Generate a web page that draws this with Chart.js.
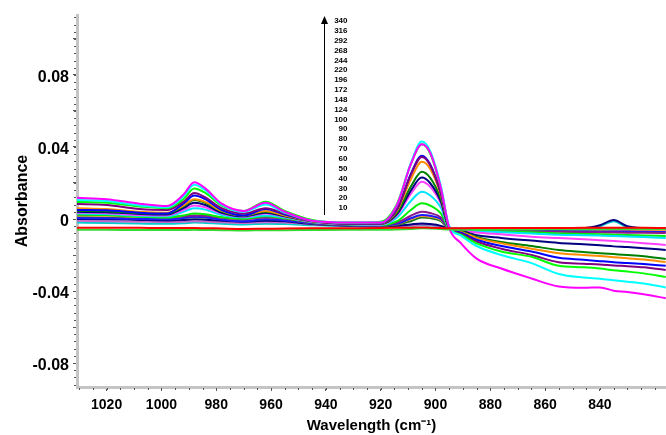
<!DOCTYPE html>
<html>
<head>
<meta charset="utf-8">
<script src="https://cdn.jsdelivr.net/npm/chart.js@4.4.1/dist/chart.umd.min.js"></script>
<style>
  html, body { margin: 0; padding: 0; background: #fff; }
  #wrap { width: 666px; height: 435px; }
</style>
</head>
<body>
<div id="wrap"><canvas id="spectra" width="666" height="435"></canvas></div>
<script>
// Wavenumber grid (cm-1)
const wavenumbers = [1031, 1020, 1008, 998, 992, 988, 984, 978, 970, 962, 955, 945, 932, 920, 914, 909, 905, 902, 898, 895, 891, 885, 876, 865, 855, 846, 840, 835, 830, 824, 816];

// Absorbance for each time (labels in the arrow list)
const abs340 = [0.0118, 0.0110, 0.0085, 0.0072, 0.0135, 0.0204, 0.0170, 0.0085, 0.0045, 0.0090, 0.0040, -0.0010, -0.0020, -0.0020, 0.0080, 0.0305, 0.0415, 0.0370, 0.0170, -0.0050, -0.0130, -0.0220, -0.0275, -0.0330, -0.0375, -0.0382, -0.0380, -0.0398, -0.0405, -0.0418, -0.0440];
const abs316 = [0.0105, 0.0100, 0.0075, 0.0065, 0.0125, 0.0190, 0.0160, 0.0080, 0.0040, 0.0080, 0.0035, -0.0010, -0.0020, -0.0020, 0.0080, 0.0310, 0.0430, 0.0380, 0.0180, -0.0040, -0.0090, -0.0150, -0.0200, -0.0245, -0.0305, -0.0325, -0.0332, -0.0340, -0.0348, -0.0358, -0.0380];
const abs292 = [0.0095, 0.0090, 0.0070, 0.0060, 0.0110, 0.0170, 0.0145, 0.0075, 0.0045, 0.0096, 0.0045, -0.0005, -0.0020, -0.0015, 0.0085, 0.0305, 0.0415, 0.0365, 0.0170, -0.0045, -0.0085, -0.0135, -0.0180, -0.0210, -0.0260, -0.0268, -0.0275, -0.0285, -0.0292, -0.0302, -0.0322];
const abs268 = [0.0083, 0.0078, 0.0055, 0.0050, 0.0095, 0.0144, 0.0120, 0.0060, 0.0030, 0.0060, 0.0030, -0.0010, -0.0025, -0.0025, 0.0055, 0.0245, 0.0344, 0.0300, 0.0140, -0.0045, -0.0080, -0.0125, -0.0165, -0.0200, -0.0240, -0.0248, -0.0252, -0.0258, -0.0262, -0.0268, -0.0283];
const abs244 = [0.0050, 0.0048, 0.0035, 0.0030, 0.0085, 0.0130, 0.0110, 0.0050, 0.0020, 0.0055, 0.0025, -0.0010, -0.0025, -0.0025, 0.0055, 0.0250, 0.0352, 0.0305, 0.0140, -0.0045, -0.0075, -0.0115, -0.0150, -0.0180, -0.0215, -0.0226, -0.0234, -0.0240, -0.0244, -0.0250, -0.0260];
const abs220 = [0.0060, 0.0055, 0.0040, 0.0035, 0.0075, 0.0110, 0.0095, 0.0045, 0.0020, 0.0045, 0.0020, -0.0012, -0.0025, -0.0025, 0.0048, 0.0220, 0.0318, 0.0280, 0.0130, -0.0045, -0.0070, -0.0105, -0.0135, -0.0165, -0.0190, -0.0200, -0.0206, -0.0212, -0.0218, -0.0225, -0.0239];
const abs196 = [0.0045, 0.0043, 0.0032, 0.0030, 0.0070, 0.0105, 0.0090, 0.0042, 0.0018, 0.0040, 0.0018, -0.0012, -0.0025, -0.0027, 0.0036, 0.0180, 0.0263, 0.0230, 0.0110, -0.0048, -0.0068, -0.0100, -0.0128, -0.0150, -0.0172, -0.0183, -0.0190, -0.0195, -0.0200, -0.0207, -0.0222];
const abs172 = [0.0040, 0.0038, 0.0028, 0.0025, 0.0060, 0.0090, 0.0078, 0.0035, 0.0015, 0.0035, 0.0015, -0.0013, -0.0027, -0.0028, 0.0028, 0.0158, 0.0230, 0.0200, 0.0095, -0.0050, -0.0065, -0.0090, -0.0105, -0.0120, -0.0133, -0.0140, -0.0146, -0.0152, -0.0156, -0.0162, -0.0172];
const abs148 = [0.0035, 0.0032, 0.0022, 0.0020, 0.0050, 0.0075, 0.0065, 0.0030, 0.0012, 0.0030, 0.0012, -0.0015, -0.0028, -0.0030, 0.0022, 0.0140, 0.0207, 0.0180, 0.0085, -0.0050, -0.0062, -0.0075, -0.0085, -0.0098, -0.0106, -0.0113, -0.0118, -0.0122, -0.0127, -0.0134, -0.0144];
const abs124 = [0.0030, 0.0028, 0.0018, 0.0015, 0.0040, 0.0060, 0.0052, 0.0022, 0.0008, 0.0020, 0.0008, -0.0016, -0.0029, -0.0032, 0.0008, 0.0100, 0.0152, 0.0132, 0.0062, -0.0052, -0.0060, -0.0068, -0.0073, -0.0080, -0.0088, -0.0090, -0.0092, -0.0094, -0.0097, -0.0100, -0.0106];
const abs100 = [0.0025, 0.0022, 0.0012, 0.0008, 0.0020, 0.0030, 0.0026, 0.0010, 0.0002, 0.0015, 0.0004, -0.0018, -0.0030, -0.0033, -0.0012, 0.0050, 0.0087, 0.0075, 0.0030, -0.0053, -0.0058, -0.0064, -0.0069, -0.0074, -0.0080, -0.0083, -0.0085, -0.0087, -0.0089, -0.0091, -0.0094];
const abs90 = [0.0025, 0.0023, 0.0015, 0.0012, 0.0015, 0.0020, 0.0018, 0.0008, 0.0000, 0.0010, 0.0002, -0.0020, -0.0032, -0.0034, -0.0020, 0.0018, 0.0040, 0.0033, 0.0008, -0.0054, -0.0057, -0.0061, -0.0064, -0.0068, -0.0071, -0.0073, -0.0074, -0.0075, -0.0076, -0.0077, -0.0078];
const abs80 = [0.0005, 0.0004, 0.0000, -0.0002, 0.0005, 0.0012, 0.0010, -0.0003, -0.0012, -0.0002, -0.0008, -0.0024, -0.0034, -0.0036, -0.0027, 0.0004, 0.0022, 0.0018, 0.0000, -0.0055, -0.0057, -0.0060, -0.0062, -0.0065, -0.0067, -0.0068, -0.0069, -0.0070, -0.0070, -0.0071, -0.0072];
const abs70 = [0.0020, 0.0018, 0.0010, 0.0008, 0.0010, 0.0014, 0.0012, 0.0004, -0.0004, 0.0004, -0.0002, -0.0022, -0.0033, -0.0035, -0.0028, 0.0000, 0.0017, 0.0013, -0.0005, -0.0055, -0.0056, -0.0058, -0.0060, -0.0062, -0.0064, -0.0065, -0.0065, -0.0066, -0.0066, -0.0066, -0.0067];
const abs60 = [0.0010, 0.0009, 0.0004, 0.0002, 0.0006, 0.0010, 0.0008, 0.0000, -0.0008, 0.0000, -0.0006, -0.0025, -0.0035, -0.0037, -0.0032, -0.0012, 0.0008, 0.0005, -0.0012, -0.0055, -0.0055, -0.0056, -0.0057, -0.0058, -0.0058, -0.0059, -0.0059, -0.0059, -0.0060, -0.0060, -0.0060];
const abs50 = [0.0000, -0.0001, -0.0005, -0.0008, -0.0006, -0.0002, -0.0004, -0.0010, -0.0015, -0.0010, -0.0013, -0.0028, -0.0037, -0.0040, -0.0038, -0.0030, -0.0025, -0.0028, -0.0038, -0.0054, -0.0054, -0.0054, -0.0054, -0.0053, -0.0052, -0.0051, -0.0035, -0.0006, -0.0040, -0.0050, -0.0052];
const abs40 = [-0.0010, -0.0012, -0.0015, -0.0017, -0.0015, -0.0012, -0.0014, -0.0018, -0.0022, -0.0018, -0.0020, -0.0030, -0.0038, -0.0041, -0.0040, -0.0035, -0.0030, -0.0032, -0.0040, -0.0054, -0.0054, -0.0055, -0.0055, -0.0055, -0.0055, -0.0055, -0.0055, -0.0056, -0.0056, -0.0056, -0.0057];
const abs30 = [-0.0020, -0.0022, -0.0025, -0.0027, -0.0024, -0.0020, -0.0022, -0.0026, -0.0030, -0.0026, -0.0028, -0.0034, -0.0040, -0.0042, -0.0041, -0.0038, -0.0034, -0.0036, -0.0042, -0.0054, -0.0054, -0.0054, -0.0054, -0.0054, -0.0054, -0.0053, -0.0040, -0.0012, -0.0045, -0.0053, -0.0055];
const abs20 = [-0.0060, -0.0060, -0.0061, -0.0061, -0.0061, -0.0060, -0.0061, -0.0062, -0.0064, -0.0062, -0.0062, -0.0061, -0.0060, -0.0060, -0.0058, -0.0055, -0.0052, -0.0053, -0.0056, -0.0058, -0.0059, -0.0059, -0.0058, -0.0058, -0.0057, -0.0057, -0.0057, -0.0056, -0.0056, -0.0056, -0.0056];
const abs10 = [-0.0048, -0.0048, -0.0049, -0.0050, -0.0050, -0.0050, -0.0051, -0.0053, -0.0055, -0.0054, -0.0053, -0.0052, -0.0051, -0.0050, -0.0049, -0.0048, -0.0047, -0.0048, -0.0050, -0.0052, -0.0051, -0.0050, -0.0050, -0.0050, -0.0050, -0.0049, -0.0049, -0.0049, -0.0049, -0.0049, -0.0050];

// Time labels beside the arrow (top to bottom)
const timeLabels = ['340', '316', '292', '268', '244', '220', '196', '172', '148', '124', '100', '90', '80', '70', '60', '50', '40', '30', '20', '10'];

// Series in drawing order (first = on top) and their colours
const seriesNames = ['10', '20', '340', '316', '292', '268', '244', '220', '196', '172', '148', '124', '100', '90', '80', '70', '60', '50', '40', '30'];
const seriesData = [abs10, abs20, abs340, abs316, abs292, abs268, abs244, abs220, abs196, abs172, abs148, abs124, abs100, abs90, abs80, abs70, abs60, abs50, abs40, abs30];
const seriesColors = ['#ff0000', '#33dd33', '#ff00ff', '#00ffff', '#00ff00', '#800080', '#0000ff', '#ff8c00', '#008000', '#000080', '#ff40ff', '#00e5ff', '#00ee00', '#8b1a8b', '#1a1aff', '#ff9933', '#1f7a1f', '#000080', '#cc66cc', '#00cccc'];

// Axis ticks
const xTicks = [1020, 1000, 980, 960, 940, 920, 900, 880, 860, 840];
const yTicks = [-0.08, -0.06, -0.04, -0.02, 0, 0.02, 0.04, 0.06, 0.08, 0.1];
const yLabels = { '-0.08': '-0.08', '-0.04': '-0.04', '0': '0', '0.04': '0.04', '0.08': '0.08' };

const datasets = seriesNames.map((name, i) => ({
  label: name,
  data: wavenumbers.map((w, j) => ({ x: w, y: seriesData[i][j] })),
  borderColor: seriesColors[i],
  backgroundColor: seriesColors[i],
  borderWidth: 2,
  pointRadius: 0,
  fill: false,
  cubicInterpolationMode: 'monotone'
}));

// minor ticks and the time arrow
const extras = {
  id: 'extras',
  afterDraw(chart) {
    const ctx = chart.ctx;
    const xs = chart.scales.x, ys = chart.scales.y;
    const area = chart.chartArea;
    ctx.save();
    ctx.strokeStyle = '#555';
    ctx.lineWidth = 1;
    // y minor ticks
    for (let k = -23; k <= 28; k++) {
      const py = Math.round(ys.getPixelForValue(k * 0.004)) + 0.5;
      if (py < area.top || py > area.bottom) continue;
      ctx.beginPath();
      ctx.moveTo(area.left - 3, py);
      ctx.lineTo(area.left - 1, py);
      ctx.stroke();
    }
    // x minor ticks
    for (let w = 820; w <= 1030; w += 5) {
      const px = Math.round(xs.getPixelForValue(w)) + 0.5;
      if (px < area.left || px > area.right) continue;
      ctx.beginPath();
      ctx.moveTo(px, area.bottom + 1);
      ctx.lineTo(px, area.bottom + 3);
      ctx.stroke();
    }
    // arrow
    const ax = Math.round(xs.getPixelForValue(940.7)) + 0.5;
    const top = area.top + 1;
    const bot = ys.getPixelForValue(0.0022);
    ctx.strokeStyle = '#000';
    ctx.fillStyle = '#000';
    ctx.beginPath();
    ctx.moveTo(ax, bot);
    ctx.lineTo(ax, top + 6);
    ctx.stroke();
    ctx.beginPath();
    ctx.moveTo(ax, top);
    ctx.lineTo(ax - 3.5, top + 8);
    ctx.lineTo(ax + 3.5, top + 8);
    ctx.closePath();
    ctx.fill();
    // time labels
    ctx.font = 'bold 8px "Liberation Sans", Arial, sans-serif';
    ctx.textAlign = 'right';
    ctx.textBaseline = 'middle';
    const step = (bot - 7 - (top + 5)) / (timeLabels.length - 1);
    timeLabels.forEach((t, i) => {
      ctx.fillText(t, ax + 23, top + 5 + i * step);
    });
    ctx.restore();
  }
};

new Chart(document.getElementById('spectra'), {
  type: 'line',
  data: { datasets: datasets },
  options: {
    responsive: false,
    animation: false,
    devicePixelRatio: 1,
    layout: { padding: { top: 15, right: 0, left: 0, bottom: 0 } },
    plugins: {
      legend: { display: false },
      tooltip: { enabled: false }
    },
    scales: {
      x: {
        type: 'linear',
        reverse: true,
        min: 815.9,
        max: 1030.8,
        afterBuildTicks: (scale) => { scale.ticks = xTicks.map(v => ({ value: v })); },
        afterFit: (scale) => { scale.height = 48; },
        ticks: {
          autoSkip: false,
          maxRotation: 0,
          padding: 6,
          color: '#000',
          font: { family: '"Liberation Sans", Arial, sans-serif', size: 14, weight: 'bold' },
          callback: (v) => String(v)
        },
        grid: { drawOnChartArea: false, drawTicks: true, tickLength: 4, color: '#555' },
        border: { display: true, color: '#c4c4c4', width: 3 },
        title: {
          display: true,
          text: 'Wavelength (cm⁻¹)',
          color: '#000',
          padding: { top: 0, bottom: 0 },
          font: { family: '"Liberation Sans", Arial, sans-serif', size: 15, weight: 'bold' }
        }
      },
      y: {
        min: -0.0933,
        max: 0.1133,
        afterBuildTicks: (scale) => { scale.ticks = yTicks.map(v => ({ value: v })); },
        afterFit: (scale) => { scale.width = 77; },
        ticks: {
          padding: 4,
          labelOffset: 3,
          color: '#000',
          font: { family: '"Liberation Sans", Arial, sans-serif', size: 16, weight: 'bold' },
          callback: (v) => {
            const key = String(Math.round(v * 100) / 100);
            return yLabels[key] !== undefined ? yLabels[key] : '';
          }
        },
        grid: { drawOnChartArea: false, drawTicks: true, tickLength: 4, color: '#555' },
        border: { display: true, color: '#c4c4c4', width: 3 },
        title: {
          display: true,
          text: 'Absorbance',
          color: '#000',
          padding: { top: 13, bottom: 0 },
          font: { family: '"Liberation Sans", Arial, sans-serif', size: 16, weight: 'bold' }
        }
      }
    }
  },
  plugins: [extras]
});
</script>
</body>
</html>
